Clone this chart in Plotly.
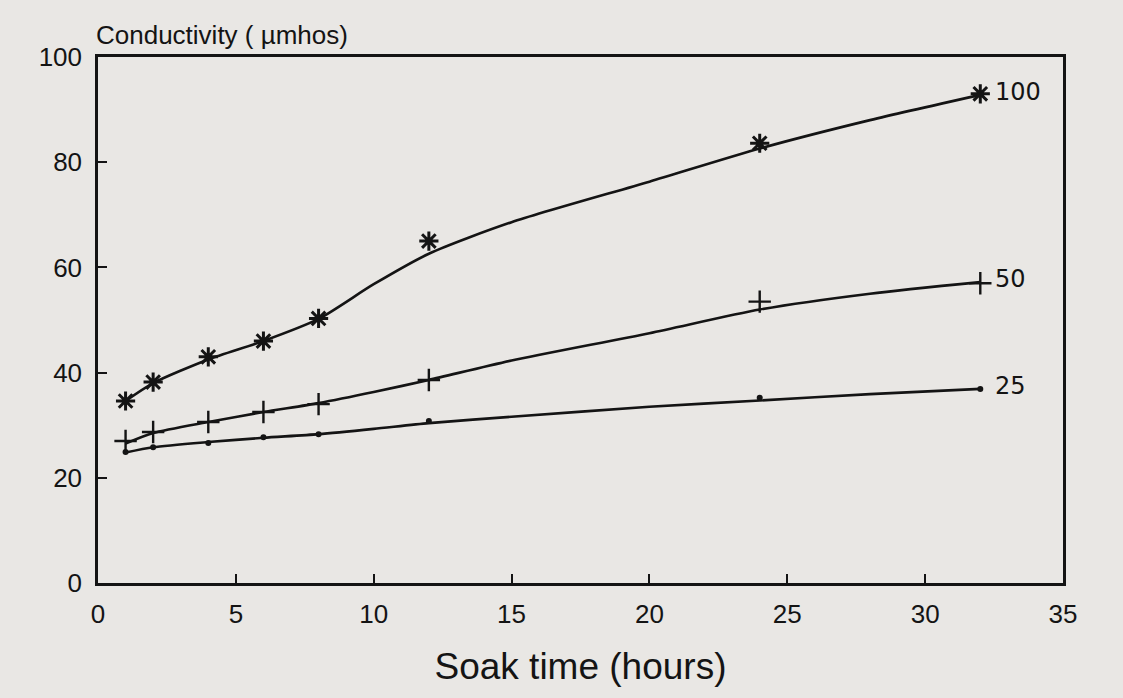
import plotly.graph_objects as go

# Soak time (hours) of the measurements
soak_time = [1, 2, 4, 6, 8, 12, 24, 32]

# Measured conductivity (µmhos) for each treatment
cond_100 = [34.6, 38.2, 43.0, 46.0, 50.3, 65.0, 83.6, 93.0]
cond_50 = [27.0, 28.7, 30.6, 32.5, 34.0, 38.6, 53.5, 57.0]
cond_25 = [24.9, 25.8, 26.6, 27.7, 28.3, 30.8, 35.2, 36.9]

# Fitted curves
fit_time = [1, 2, 4, 6, 8, 10, 12, 15, 20, 24, 28, 32]
fit_100 = [34.6, 38.0, 42.5, 46.0, 50.2, 56.8, 62.6, 68.6, 76.3, 82.6, 88.0, 92.8]
fit_50 = [26.5, 28.5, 30.6, 32.5, 34.2, 36.3, 38.6, 42.3, 47.5, 52.0, 55.0, 57.2]
fit_25 = [24.8, 25.8, 26.8, 27.6, 28.3, 29.3, 30.4, 31.6, 33.5, 34.7, 35.9, 36.9]

series_labels = ["100", "50", "25"]
x_ticks = [0, 5, 10, 15, 20, 25, 30, 35]
y_ticks = [0, 20, 40, 60, 80, 100]

INK = "#141414"
PAPER = "#e9e7e4"
FONT = "Liberation Sans"

fig = go.Figure()

for fit in (fit_100, fit_50, fit_25):
    fig.add_trace(go.Scatter(x=fit_time, y=fit, mode="lines",
                             line=dict(color=INK, width=2.6, shape="spline", smoothing=0.7),
                             hoverinfo="skip", showlegend=False))

fig.add_trace(go.Scatter(x=soak_time, y=cond_100, mode="markers",
                         marker=dict(symbol="asterisk-open", size=16, color=INK,
                                     line=dict(color=INK, width=3)),
                         showlegend=False))
fig.add_trace(go.Scatter(x=soak_time, y=cond_50, mode="markers",
                         marker=dict(symbol="cross-thin-open", size=16, color=INK,
                                     line=dict(color=INK, width=2.4)),
                         showlegend=False))
fig.add_trace(go.Scatter(x=soak_time, y=cond_25, mode="markers",
                         marker=dict(symbol="circle", size=6, color=INK),
                         showlegend=False))

for lab, ys in zip(series_labels, (fit_100, fit_50, fit_25)):
    fig.add_annotation(x=fit_time[-1], y=ys[-1], text=lab, showarrow=False,
                       xanchor="left", yanchor="middle", xshift=13, yshift=3,
                       font=dict(family="DejaVu Sans", size=24, color=INK))

fig.add_annotation(x=0, y=1, xref="paper", yref="paper", text="Conductivity ( µmhos)",
                   showarrow=False, xanchor="left", yanchor="bottom", xshift=-4, yshift=5,
                   font=dict(family=FONT, size=26, color=INK))

fig.update_layout(
    width=1123, height=698,
    margin=dict(l=98, r=60, t=57, b=115),
    paper_bgcolor=PAPER, plot_bgcolor=PAPER,
    font=dict(family=FONT, color=INK),
    xaxis=dict(range=[0, 35], tickvals=x_ticks, ticks="inside", ticklen=9,
               tickwidth=2, tickcolor=INK, showline=True, linecolor=INK, linewidth=2.5,
               mirror=True, showgrid=False, zeroline=False,
               tickfont=dict(size=26, color=INK), ticklabelstandoff=6,
               title=dict(text="Soak time (hours)", font=dict(size=37, color=INK), standoff=26)),
    yaxis=dict(range=[0, 100], tickvals=y_ticks, ticks="inside", ticklen=9,
               tickwidth=2, tickcolor=INK, showline=True, linecolor=INK, linewidth=2.5,
               mirror=True, showgrid=False, zeroline=False,
               tickfont=dict(size=26, color=INK), ticklabelstandoff=8),
)

fig.write_html("out.html")
